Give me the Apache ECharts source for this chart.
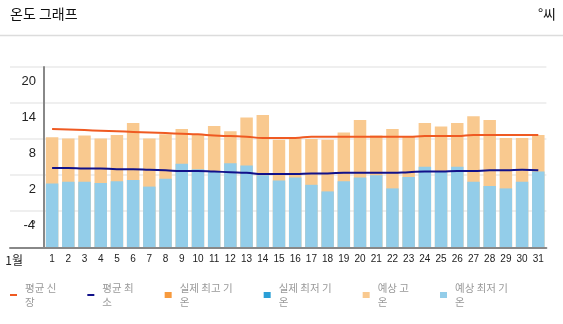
<!DOCTYPE html>
<html>
<head>
<meta charset="utf-8">
<script src="https://cdn.jsdelivr.net/npm/echarts@6/dist/echarts.min.js"></script>
<style>
  html, body { margin: 0; padding: 0; background: #fff; }
  #chart { width: 563px; height: 324px; }
</style>
</head>
<body>
<div id="chart"></div>
<script>
// ---- data ----
const days = ['1','2','3','4','5','6','7','8','9','10','11','12','13','14','15','16','17','18','19','20','21','22','23','24','25','26','27','28','29','30','31'];
const forecastHigh = [10.7,10.5,11.0,10.5,11.1,13.1,10.5,11.2,12.1,11.1,12.6,11.7,14.0,14.4,10.3,10.5,10.4,10.3,11.5,13.6,11.0,12.1,10.8,13.1,12.5,13.1,14.2,13.6,10.6,10.6,11.1];
const forecastLow  = [3.0,3.3,3.3,3.1,3.4,3.6,2.5,3.8,6.3,5.4,5.0,6.4,6.0,4.4,3.5,4.0,2.8,1.7,3.4,4.0,4.4,2.2,4.1,5.8,5.0,5.8,3.3,2.6,2.2,3.3,5.0];
const avgHigh = [12.1,12.0,11.9,11.8,11.7,11.6,11.5,11.4,11.3,11.2,11.0,10.9,10.8,10.6,10.6,10.6,10.8,10.8,10.8,10.8,10.8,10.8,10.8,10.9,10.9,10.9,11.1,11.1,11.1,11.1,11.1];
const avgLow  = [5.6,5.6,5.5,5.5,5.4,5.4,5.3,5.2,5.1,5.1,5.0,4.9,4.8,4.6,4.6,4.6,4.7,4.7,4.8,4.8,4.8,4.8,4.9,5.0,5.0,5.1,5.1,5.2,5.2,5.3,5.2];
const actualHigh = [];
const actualLow = [];
const yTickValues = [-4, 2, 8, 14, 20];
const monthLabel = '1월';
const legendText = {
  '평균 신장': '평균 신\n장',
  '평균 최소': '평균 최\n소',
  '실제 최고 기온': '실제 최고 기\n온',
  '실제 최저 기온': '실제 최저 기\n온',
  '예상 고온': '예상 고\n온',
  '예상 최저 기온': '예상 최저 기\n온'
};

const Y_MIN = -7.6, Y_MAX = 22.4;
const NARROW = "'Liberation Sans Narrow', 'Arial Narrow', 'Liberation Sans', sans-serif";
const KR = "'Noto Sans CJK KR', sans-serif";
const BAR_RATIO = 0.77;

// bars rising from the bottom of the value axis, positioned through the axis scales
function floorBar(params, api) {
  const idx = api.value(0);
  const top = api.coord([idx, api.value(1)]);
  const base = api.coord([idx, Y_MIN]);
  const w = api.size([1, 0])[0] * BAR_RATIO;
  return {
    type: 'rect',
    shape: { x: top[0] - w / 2, y: top[1], width: w, height: base[1] - top[1] },
    style: api.style()
  };
}
const toPairs = arr => arr.map((v, i) => [i, v]);

const chart = echarts.init(document.getElementById('chart'), null, { renderer: 'canvas' });
chart.setOption({
  animation: false,
  textStyle: { fontFamily: KR },
  title: [
    { text: '온도 그래프', left: 10, top: 7, padding: 0, textStyle: { fontSize: 14, fontWeight: 'normal', color: '#111', fontFamily: KR } },
    { text: '°씨', right: 7, top: 7, padding: 0, textStyle: { fontSize: 14, fontWeight: 'normal', color: '#111', fontFamily: KR } }
  ],
  graphic: [
    { type: 'line', shape: { x1: 0, y1: 35.5, x2: 563, y2: 35.5 }, style: { stroke: '#dcdcdc', lineWidth: 1.5 } }
  ],
  legend: {
    left: 10, top: 281, padding: 0,
    itemWidth: 7, itemHeight: 6, itemGap: 31,
    formatter: n => legendText[n] || n,
    textStyle: { fontSize: 10.5, lineHeight: 14, color: '#999', fontFamily: KR, padding: [0, 0, 0, 3] },
    data: [
      { name: '평균 신장', icon: 'path://M0,0H7V2H0Z' },
      { name: '평균 최소', icon: 'path://M0,0H7V2H0Z' },
      { name: '실제 최고 기온', icon: 'rect' },
      { name: '실제 최저 기온', icon: 'rect' },
      { name: '예상 고온', icon: 'rect' },
      { name: '예상 최저 기온', icon: 'rect' }
    ]
  },
  grid: [
    { left: 10, right: 16.6, top: 67, bottom: 76.7 },
    { left: 44, right: 16.6, top: 67, bottom: 76.7 }
  ],
  xAxis: [
    { gridIndex: 0, type: 'value', min: 0, max: 1, z: 5,
      axisLine: { show: true, lineStyle: { color: '#888', width: 2 } },
      axisLabel: { show: false }, axisTick: { show: false }, splitLine: { show: false } },
    { gridIndex: 1, type: 'category', data: days,
      axisLine: { show: false, onZero: false }, axisTick: { show: false },
      axisLabel: { interval: 0, margin: 7, fontSize: 10, color: '#222', fontFamily: NARROW },
      name: monthLabel, nameLocation: 'start', nameGap: 21,
      nameTextStyle: { fontSize: 12, color: '#222', fontFamily: KR, verticalAlign: 'top', lineHeight: 26 } }
  ],
  yAxis: [
    { gridIndex: 0, type: 'value', min: 0, max: 30, interval: 6,
      axisLine: { show: false }, axisTick: { show: false }, axisLabel: { show: false },
      splitLine: { show: true, lineStyle: { color: '#efefef', width: 2 } } },
    { gridIndex: 1, type: 'value', min: Y_MIN, max: Y_MAX,
      axisLine: { show: true, onZero: false, lineStyle: { color: '#888', width: 2 } },
      axisTick: { show: false }, splitLine: { show: false },
      axisLabel: {
        customValues: yTickValues, margin: 8, fontSize: 13, color: '#222', fontFamily: NARROW,
        formatter: v => v < 0 ? v + '{d|°}' : String(v),
        rich: { d: { width: 1, fontSize: 13, fontFamily: NARROW, color: '#222' } }
      } }
  ],
  series: [
    { name: '예상 고온', type: 'custom', xAxisIndex: 1, yAxisIndex: 1, renderItem: floorBar,
      data: toPairs(forecastHigh), encode: { x: 0, y: 1 }, itemStyle: { color: '#f9c98f' }, z: 2 },
    { name: '예상 최저 기온', type: 'custom', xAxisIndex: 1, yAxisIndex: 1, renderItem: floorBar,
      data: toPairs(forecastLow), encode: { x: 0, y: 1 }, itemStyle: { color: '#93cde9' }, z: 3 },
    { name: '실제 최고 기온', type: 'custom', xAxisIndex: 1, yAxisIndex: 1, renderItem: floorBar,
      data: toPairs(actualHigh), encode: { x: 0, y: 1 }, itemStyle: { color: '#f79a3e' }, z: 3 },
    { name: '실제 최저 기온', type: 'custom', xAxisIndex: 1, yAxisIndex: 1, renderItem: floorBar,
      data: toPairs(actualLow), encode: { x: 0, y: 1 }, itemStyle: { color: '#2b9fd6' }, z: 3 },
    { name: '평균 신장', type: 'line', xAxisIndex: 1, yAxisIndex: 1, data: avgHigh,
      symbol: 'none', smooth: true, lineStyle: { color: '#ef5a22', width: 2 }, itemStyle: { color: '#ef5a22' }, z: 6 },
    { name: '평균 최소', type: 'line', xAxisIndex: 1, yAxisIndex: 1, data: avgLow,
      symbol: 'none', smooth: true, lineStyle: { color: '#11118a', width: 2 }, itemStyle: { color: '#11118a' }, z: 6 }
  ]
});
</script>
</body>
</html>
